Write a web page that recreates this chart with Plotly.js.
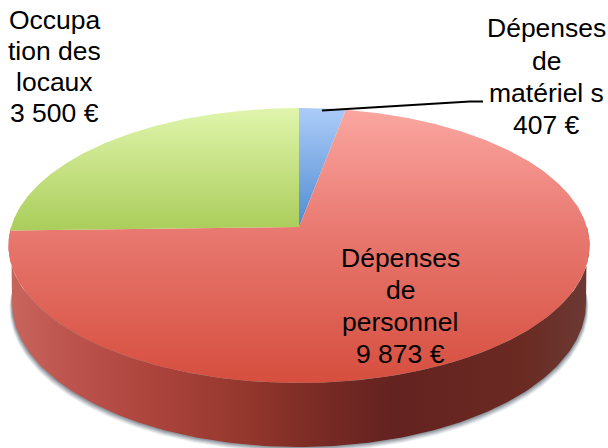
<!DOCTYPE html>
<html>
<head>
<meta charset="utf-8">
<script src="https://cdn.plot.ly/plotly-3.0.1.min.js"></script>
<style>html,body{margin:0;padding:0;background:#fff}#chart{width:608px;height:448px}</style>
</head>
<body>
<div id="chart"></div>
<script>
// Data
const categories = ["Dépenses de matériel s", "Dépenses de personnel", "Occupation des locaux"];
const values = [407, 9873, 3500];
const labelLines = [
  ["Dépenses", "de", "matériel s", "407 €"],
  ["Dépenses", "de", "personnel", "9 873 €"],
  ["Occupa", "tion des", "locaux", "3 500 €"]
];

// Styles
const topScales = [
  [[0, "rgb(80,140,210)"], [1, "rgb(172,204,248)"]],
  [[0, "rgb(214,78,62)"], [0.55, "rgb(232,120,112)"], [1, "rgb(251,166,160)"]],
  [[0, "rgb(170,205,90)"], [1, "rgb(224,245,172)"]]
];
const wallScale = [
  [0, "rgb(200,102,92)"], [0.08, "rgb(192,88,82)"], [0.25, "rgb(172,68,60)"],
  [0.42, "rgb(146,54,44)"], [0.5, "rgb(128,46,38)"], [0.66, "rgb(100,34,32)"],
  [0.88, "rgb(106,42,34)"], [1, "rgb(108,58,52)"]
];

// Projection of the tilted disc onto the page
const apex = {x: 299, y: 227}, a = 287.9, b = 135, k = 0.1345;
const rim = deg => {
  const t = deg * Math.PI / 180, w = 1 + k * Math.cos(t);
  return [apex.x + a * Math.sin(t) / w, apex.y - b * Math.cos(t) / w];
};
const lower = {x: 299, y: 303, rx: 287, ry: 144};
const lowerPt = deg => {
  const t = deg * Math.PI / 180;
  return [lower.x + lower.rx * Math.sin(t), lower.y + lower.ry * Math.cos(t)];
};

const total = values.reduce((s, v) => s + v, 0);
const traces = [];

// Soft shadow under the wall
[[5, 0.12], [4, 0.16], [3, 0.22], [2, 0.3], [1, 0.4]].forEach(([d, o]) => {
  const xs = [], ys = [];
  for (let i = -95; i <= 95; i++) {
    const p = lowerPt(i);
    xs.push(p[0] + (i < 0 ? -d * 0.5 : d * 0.5)); ys.push(p[1] + d);
  }
  traces.push({x: xs, y: ys, mode: "lines", fill: "toself", line: {width: 0},
    fillcolor: `rgba(110,120,130,${o})`, hoverinfo: "skip", showlegend: false});
});

// Side wall: front half of the top rim, then the lower rim back
const wx = [], wy = [];
for (let d = 270; d >= 90; d--) { const p = rim(d); wx.push(p[0]); wy.push(p[1]); }
for (let d = 90; d <= 270; d++) { const p = lowerPt(d < 180 ? 180 - d : 540 - d); wx.push(p[0]); wy.push(p[1]); }
traces.push({x: wx, y: wy, mode: "lines", fill: "toself", line: {width: 0},
  fillgradient: {type: "horizontal", colorscale: wallScale},
  hoverinfo: "skip", showlegend: false});

// Top wedges from the values
let start = 0;
values.forEach((v, i) => {
  const end = start + v / total * 360;
  const xs = [apex.x], ys = [apex.y];
  for (let d = start; d < end; d += 0.5) { const p = rim(d); xs.push(p[0]); ys.push(p[1]); }
  const pe = rim(end); xs.push(pe[0], apex.x); ys.push(pe[1], apex.y);
  traces.push({x: xs, y: ys, mode: "lines", fill: "toself", line: {width: 0},
    fillgradient: {type: "vertical", colorscale: topScales[i]},
    name: categories[i], hoverinfo: "skip", showlegend: false});
  start = end;
});

// Leader line of the small slice
traces.push({x: [322, 470, 483], y: [110.5, 101.5, 101.5], mode: "lines",
  line: {color: "#000", width: 2}, hoverinfo: "skip", showlegend: false});

// Labels
const labelPos = [{x: 546.5, y: [28, 61, 93, 125]}, {x: 400, y: [258, 290, 322, 354]}, {x: 54.5, y: [20, 51, 82, 113]}];
const annotations = [];
labelLines.forEach((lines, i) => lines.forEach((t, j) => annotations.push({
  x: labelPos[i].x, y: labelPos[i].y[j], xref: "x", yref: "y", text: t, showarrow: false,
  xanchor: "center", yanchor: "middle", borderpad: 0,
  font: {family: "Liberation Sans, Arial, sans-serif", size: 26.5, color: "#000"}
})));

Plotly.newPlot("chart", traces, {
  width: 608, height: 448, margin: {l: 0, r: 0, t: 0, b: 0},
  paper_bgcolor: "#fff", plot_bgcolor: "#fff", showlegend: false,
  xaxis: {range: [0, 608], visible: false, fixedrange: true},
  yaxis: {range: [448, 0], visible: false, fixedrange: true},
  annotations
}, {displayModeBar: false, staticPlot: true});
</script>
</body>
</html>
